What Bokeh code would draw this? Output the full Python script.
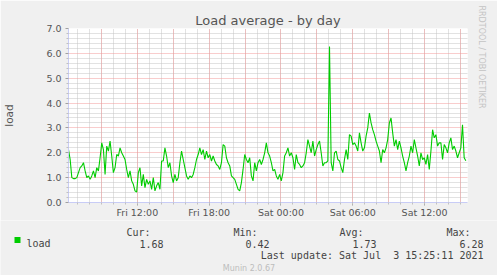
import math
from datetime import datetime, timedelta

from bokeh.plotting import figure
from bokeh.layouts import column
from bokeh.models import (ColumnDataSource, Range1d, FixedTicker, Grid,
                          DatetimeTickFormatter, NumeralTickFormatter, Label,
                          Title)
from bokeh.embed import file_html
from bokeh.resources import INLINE

# ---------------- data ----------------
series_name = "load"
series_start = "2021-07-02 06:15:00"
sample_step_seconds = 500
load_values = [
    2.13, 1.73, 1.00, 0.96, 0.96, 1.00, 1.20, 1.40, 1.47, 1.60,
    1.27, 1.00, 1.07, 0.93, 1.07, 1.27, 1.00, 1.40, 1.27, 1.80,
    2.40, 2.13, 1.13, 2.27, 2.07, 2.47, 1.87, 1.20, 1.40, 1.93,
    1.87, 2.20, 2.00, 1.87, 1.73, 1.33, 1.00, 1.27, 0.87, 0.73,
    0.47, 0.42, 1.20, 1.40, 0.67, 1.13, 0.60, 0.93, 0.73, 0.87,
    0.53, 1.00, 0.47, 0.67, 0.80, 0.53, 1.67, 1.67, 2.20, 1.87,
    1.40, 1.60, 1.07, 0.80, 1.13, 0.87, 1.00, 1.60, 2.07, 1.73,
    1.40, 1.07, 0.93, 1.07, 1.00, 1.13, 1.40, 1.73, 1.93, 2.20,
    1.93, 2.13, 1.73, 2.07, 1.80, 1.93, 1.67, 1.87, 1.67, 1.53,
    1.47, 1.33, 1.60, 2.33, 2.27, 1.80, 1.60, 1.47, 1.07, 1.00,
    0.93, 0.73, 0.53, 0.47, 0.80, 1.33, 1.93, 1.73, 1.60, 1.80,
    1.07,
    0.87, 1.60, 1.27, 1.60, 1.73, 1.53, 1.73, 2.00, 2.40, 2.00,
    1.87, 1.60, 1.27, 1.33, 1.07, 0.93, 1.13, 0.87, 1.20, 1.87,
    2.00, 2.20, 1.87, 2.00, 1.80, 1.33, 1.93, 1.60, 1.53, 1.40,
    1.47, 1.60, 2.00, 2.53, 2.27, 2.00, 2.47, 1.87, 2.13, 2.33,
    2.47, 2.00, 1.47, 1.60, 1.60, 1.67, 6.28, 1.60, 1.27, 2.00,
    2.07, 1.73, 1.67, 1.40, 1.20, 1.73, 2.13, 1.73, 2.73, 2.67,
    2.33, 2.40, 2.27, 2.07, 2.80, 2.40, 2.07, 2.20, 2.67, 3.00,
    3.60, 3.20, 2.93, 2.73, 2.47, 2.27, 2.07, 1.60, 2.13, 2.00,
    2.20, 2.53, 3.20, 3.40, 2.80, 2.27, 2.53, 2.13, 2.47, 2.20,
    1.87, 1.60, 1.27, 1.60, 1.87, 2.27, 2.00, 2.53, 2.20, 1.87,
    1.47, 2.00, 1.73, 1.80, 1.53, 1.93, 1.33, 2.07, 2.93, 2.60,
    2.73, 2.27, 2.40, 2.40, 1.73, 2.33, 2.20, 2.00, 2.40, 2.60,
    2.13, 2.27, 2.07, 1.80, 2.00, 2.20, 3.13, 1.80, 1.68,
]
x_tick_times = ["2021-07-02 12:00", "2021-07-02 18:00", "2021-07-03 00:00",
                "2021-07-03 06:00", "2021-07-03 12:00"]
x_tick_labels = ["Fri 12:00", "Fri 18:00", "Sat 00:00", "Sat 06:00", "Sat 12:00"]
y_tick_values = [0, 1, 2, 3, 4, 5, 6, 7]
stat_headers = ["Cur:", "Min:", "Avg:", "Max:"]
stat_values = ["1.68", "0.42", "1.73", "6.28"]
title_text = "Load average - by day"
y_label_text = "load"
last_update_text = "Last update: Sat Jul  3 15:25:11 2021"
credit_text = "RRDTOOL / TOBI OETIKER"
version_text = "Munin 2.0.67"
range_start = "2021-07-02 06:15:00"
range_end = "2021-07-03 15:35:00"

# ---------------- helpers ----------------
EPOCH = datetime(1970, 1, 1)


def to_ms(dt):
    return (dt - EPOCH).total_seconds() * 1000.0


def parse(s):
    return datetime.fromisoformat(s)


t0 = parse(series_start)
times = [t0 + timedelta(seconds=i * sample_step_seconds) for i in range(len(load_values))]
src = ColumnDataSource(data=dict(t=times, v=load_values))

x_start = to_ms(parse(range_start))
x_end = to_ms(parse(range_end))

W = 497
H_TOP = 220
H_BOT = 275 - H_TOP
FL, FT, FR, FB = 67, 28, 30, H_TOP - 203  # frame borders
BG = "#F0F0F0"
TXT = "#555555"

p = figure(width=W, height=H_TOP, output_backend="svg", toolbar_location=None,
           x_axis_type="datetime",
           x_range=Range1d(x_start, x_end), y_range=Range1d(0, 7),
           min_border_left=FL, min_border_right=FR,
           min_border_top=FT, min_border_bottom=FB)
p.frame_align = False
p.border_fill_color = BG
p.background_fill_color = "#FFFFFF"
p.outline_line_color = None
p.xgrid.visible = False
p.ygrid.visible = False

# title
p.title.text = title_text
p.title.align = "center"
p.title.offset = -18.5
p.title.standoff = 1
p.title.text_font = "DejaVu Sans"
p.title.text_font_size = "13px"
p.title.text_font_style = "normal"
p.title.text_color = TXT

# credit text on the right
p.add_layout(Title(text=credit_text, align="left", offset=-23, standoff=18,
                   text_font="DejaVu Sans", text_font_size="8px",
                   text_font_style="normal", text_color="#C4C4C4"), "right")

# grids
hour_ms = 3600 * 1000.0
first_hour = math.ceil(x_start / hour_ms) * hour_ms
minor_x, major_x = [], []
h = first_hour
while h <= x_end:
    minor_x.append(h)
    if round(h / hour_ms) % 3 == 0:
        major_x.append(h)
    h += hour_ms
minor_y = [round(i * 0.2, 2) for i in range(1, 36) if i % 5 != 0]
major_y = [1, 2, 3, 4, 5, 6, 7]

GRID_MINOR = "#C4C4C4"
GRID_MAJOR = "#F29A9A"
for dim, ticks, col in [(0, minor_x, GRID_MINOR), (1, minor_y, GRID_MINOR),
                        (0, major_x, GRID_MAJOR), (1, major_y, GRID_MAJOR)]:
    p.add_layout(Grid(dimension=dim, ticker=FixedTicker(ticks=ticks),
                      grid_line_color=col, grid_line_dash="1 1", grid_line_width=1))

# data line
p.line(x="t", y="v", source=src, line_color="#00CC00", line_width=1.1)

# axes
AXIS_COL = "#C8CCF6"
tick_ms = [to_ms(parse(s)) for s in x_tick_times]
xa = p.xaxis[0]
xa.ticker = FixedTicker(ticks=tick_ms, minor_ticks=minor_x)
xa.formatter = DatetimeTickFormatter(hours="%a %H:%M", days="%a %H:%M",
                                     hourmin="%a %H:%M", minutes="%a %H:%M")
xa.major_label_overrides = {int(t): lab for t, lab in zip(tick_ms, x_tick_labels)}
ya = p.yaxis[0]
ya.ticker = FixedTicker(ticks=y_tick_values, minor_ticks=minor_y)
ya.formatter = NumeralTickFormatter(format="0.0")
for ax in (xa, ya):
    ax.axis_line_color = AXIS_COL
    ax.major_tick_line_color = "#A0A0A0"
    ax.minor_tick_line_color = "#C0C0C0"
    ax.major_tick_in = 0
    ax.minor_tick_in = 0
    ax.major_tick_out = 3
    ax.minor_tick_out = 2
    ax.major_label_text_font = "DejaVu Sans"
    ax.major_label_text_font_size = "9.5px"
    ax.major_label_text_color = TXT
xa.major_label_standoff = 1
ya.major_label_standoff = 4
ya.axis_label = y_label_text
ya.axis_label_text_font = "DejaVu Sans"
ya.axis_label_text_font_size = "10.5px"
ya.axis_label_text_font_style = "normal"
ya.axis_label_text_color = TXT
ya.axis_label_standoff = 28

# ---------------- legend area (separate figure, frame = whole canvas) ----------------
q = figure(width=W, height=H_BOT, output_backend="svg", toolbar_location=None,
           x_range=Range1d(0, W), y_range=Range1d(H_BOT, 0),
           x_axis_location=None, y_axis_location=None,
           min_border=0, min_border_left=0, min_border_right=0,
           min_border_top=0, min_border_bottom=0)
q.frame_align = False
q.grid.visible = False
q.outline_line_color = None
q.border_fill_color = BG
q.background_fill_color = BG


def add_text(text, X, Y, size, color, font="DejaVu Sans Mono", align="left"):
    q.add_layout(Label(x=X, y=Y - H_TOP, text=text, text_font=font,
                       text_font_size=size, text_color=color, text_align=align,
                       text_baseline="alphabetic"))


LEG = "#444444"
header_right = [150, 257, 363, 470]
value_right = [163, 269, 376, 483]
for hd, hx in zip(stat_headers, header_right):
    add_text(hd, hx, 231.5, "10px", LEG, align="right")
for vv, vx in zip(stat_values, value_right):
    add_text(vv, vx, 243, "10px", LEG, align="right")
add_text(series_name, 26, 243, "10px", LEG)
# keep the double space visible (SVG collapses runs of ordinary spaces)
add_text(last_update_text.replace("  ", " \u00a0"), 483, 255, "10px", LEG, align="right")
add_text(version_text, 248.5, 267.5, "8px", "#BDBDBD", font="DejaVu Sans",
         align="center")

sw = ColumnDataSource(data=dict(x=[17], y=[239.5 - H_TOP]))
q.scatter(x="x", y="y", source=sw, marker="square", size=6,
          fill_color="#00CC00", line_color=None)

layout = column(p, q, spacing=0)
open("out.html", "w").write(file_html(layout, INLINE))
